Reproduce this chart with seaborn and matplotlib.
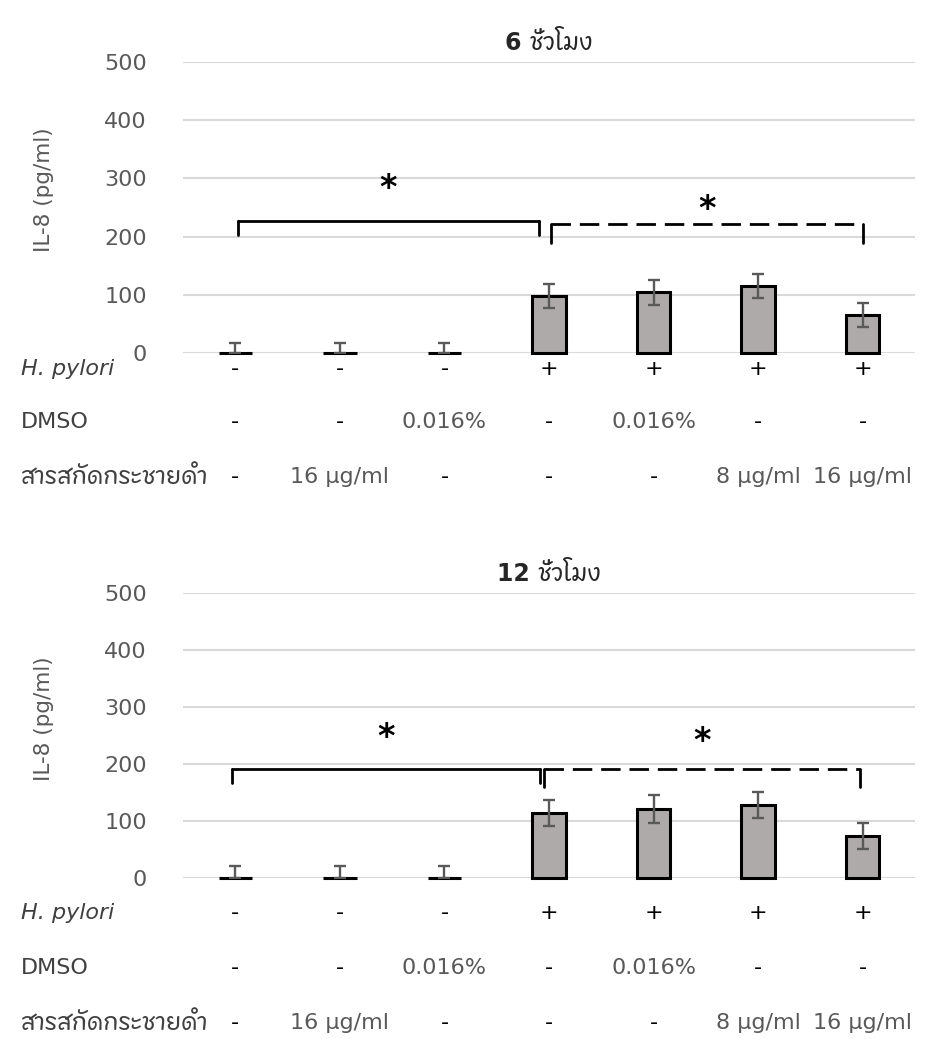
import matplotlib
matplotlib.use("Agg")
import matplotlib.pyplot as plt
from matplotlib import font_manager
from matplotlib.ft2font import FT2Font
import matplotlib.transforms as mtransforms
import seaborn as sns
import numpy as np

# data
groups = ["G1", "G2", "G3", "G4", "G5", "G6", "G7"]
il8_6h = [0, 0, 0, 98, 104, 115, 65]
err_6h = [17, 17, 17, 20, 21, 20, 20]
il8_12h = [0, 0, 0, 114, 121, 128, 73]
err_12h = [21, 21, 21, 23, 24, 23, 23]

hpylori = ["-", "-", "-", "+", "+", "+", "+"]
dmso = ["-", "-", "0.016%", "-", "0.016%", "-", "-"]
extract = ["-", "16 μg/ml", "-", "-", "-", "8 μg/ml", "16 μg/ml"]
row_names = ["H. pylori", "DMSO", "สารสกัดกระชายดำ"]

titles = ["6 ชั่วโมง", "12 ชั่วโมง"]
# significance brackets: (start group, end group, height, foot, star height, dashed)
brackets_6h = [(0.02, 2.9, 227, 203, 283, False), (3.02, 6.0, 222, 189, 247, True)]
brackets_12h = [(-0.03, 2.91, 192, 166, 246, False), (2.95, 5.98, 192, 160, 239, True)]


def find_thai_font():
    best = None
    for f in font_manager.fontManager.ttflist:
        try:
            cmap = FT2Font(f.fname).get_charmap()
        except Exception:
            continue
        if 0x0E0A in cmap and 0x0E31 in cmap:
            if best is None or "Sans" in f.name:
                best = f.name
    return best


sns.set_style("white")
thai = find_thai_font()
fams = ["DejaVu Sans"] + ([thai] if thai else [])
plt.rcParams["font.family"] = fams

GRAY = "#595959"
fig = plt.figure(figsize=(9.25, 10.39), dpi=100)
ax1 = fig.add_axes([0.198, 0.6603, 0.791, 0.280])
ax2 = fig.add_axes([0.198, 0.155, 0.791, 0.274])

panels = [
    (ax1, il8_6h, err_6h, titles[0], brackets_6h, [-0.055, -0.237, -0.426]),
    (ax2, il8_12h, err_12h, titles[1], brackets_12h, [-0.123, -0.316, -0.509]),
]

for ax, vals, errs, title, brs, rows_y in panels:
    sns.barplot(x=groups, y=vals, ax=ax, color="#aeaaaa", edgecolor="black",
                linewidth=2.2, width=0.32, saturation=1, errorbar=None)
    for p in ax.patches:
        p.set_clip_on(False)
        p.set_zorder(3)
    lower = [min(e, v) for e, v in zip(errs, vals)]
    ax.errorbar(np.arange(len(groups)), vals, yerr=[lower, errs], fmt="none",
                ecolor=GRAY, elinewidth=1.7, capsize=4, capthick=1.7, zorder=4)
    ax.set_ylim(0, 500)
    ax.set_xlim(-0.5, 6.5)
    ax.set_yticks(range(0, 501, 100))
    ax.yaxis.grid(True, color="#d9d9d9", linewidth=1.5)
    ax.set_axisbelow(True)
    sns.despine(ax=ax, left=True, bottom=True)
    ax.tick_params(axis="y", length=0, pad=26, labelsize=16, labelcolor=GRAY)
    ax.set_xticks([])
    ax.set_xlabel("")
    ax.set_ylabel("IL-8 (pg/ml)", fontsize=15.5, color=GRAY)
    ax.yaxis.set_label_coords(-0.176, 0.56)
    ax.set_title(title, fontsize=17, fontweight="bold", pad=9)

    trans = mtransforms.blended_transform_factory(ax.transData, ax.transAxes)
    for row, y in zip([hpylori, dmso, extract], rows_y):
        for i, lab in enumerate(row):
            col = "black" if lab in ("-", "+") else GRAY
            ax.text(i, y, lab, transform=trans, ha="center", va="center",
                    fontsize=16, color=col, clip_on=False)
    for name, y in zip(row_names, rows_y):
        ax.text(-0.222, y, name, transform=ax.transAxes, ha="left", va="center",
                fontsize=16 if name != row_names[2] else 17, color="#404040",
                style="italic" if name == "H. pylori" else "normal")

    for x0, x1, h, foot, star_y, dashed in brs:
        ls = (0, (7, 3.2)) if dashed else "-"
        ax.plot([x0, x0], [foot, h], color="black", lw=2, clip_on=False)
        ax.plot([x0, x1], [h, h], color="black", lw=2, ls=ls, clip_on=False)
        ax.plot([x1, x1], [h, foot], color="black", lw=2, clip_on=False)
        ax.text((x0 + x1) / 2, star_y, "*", ha="center", va="center",
                fontsize=24, fontweight="bold", color="black")

fig.savefig("out.png", dpi=100)
